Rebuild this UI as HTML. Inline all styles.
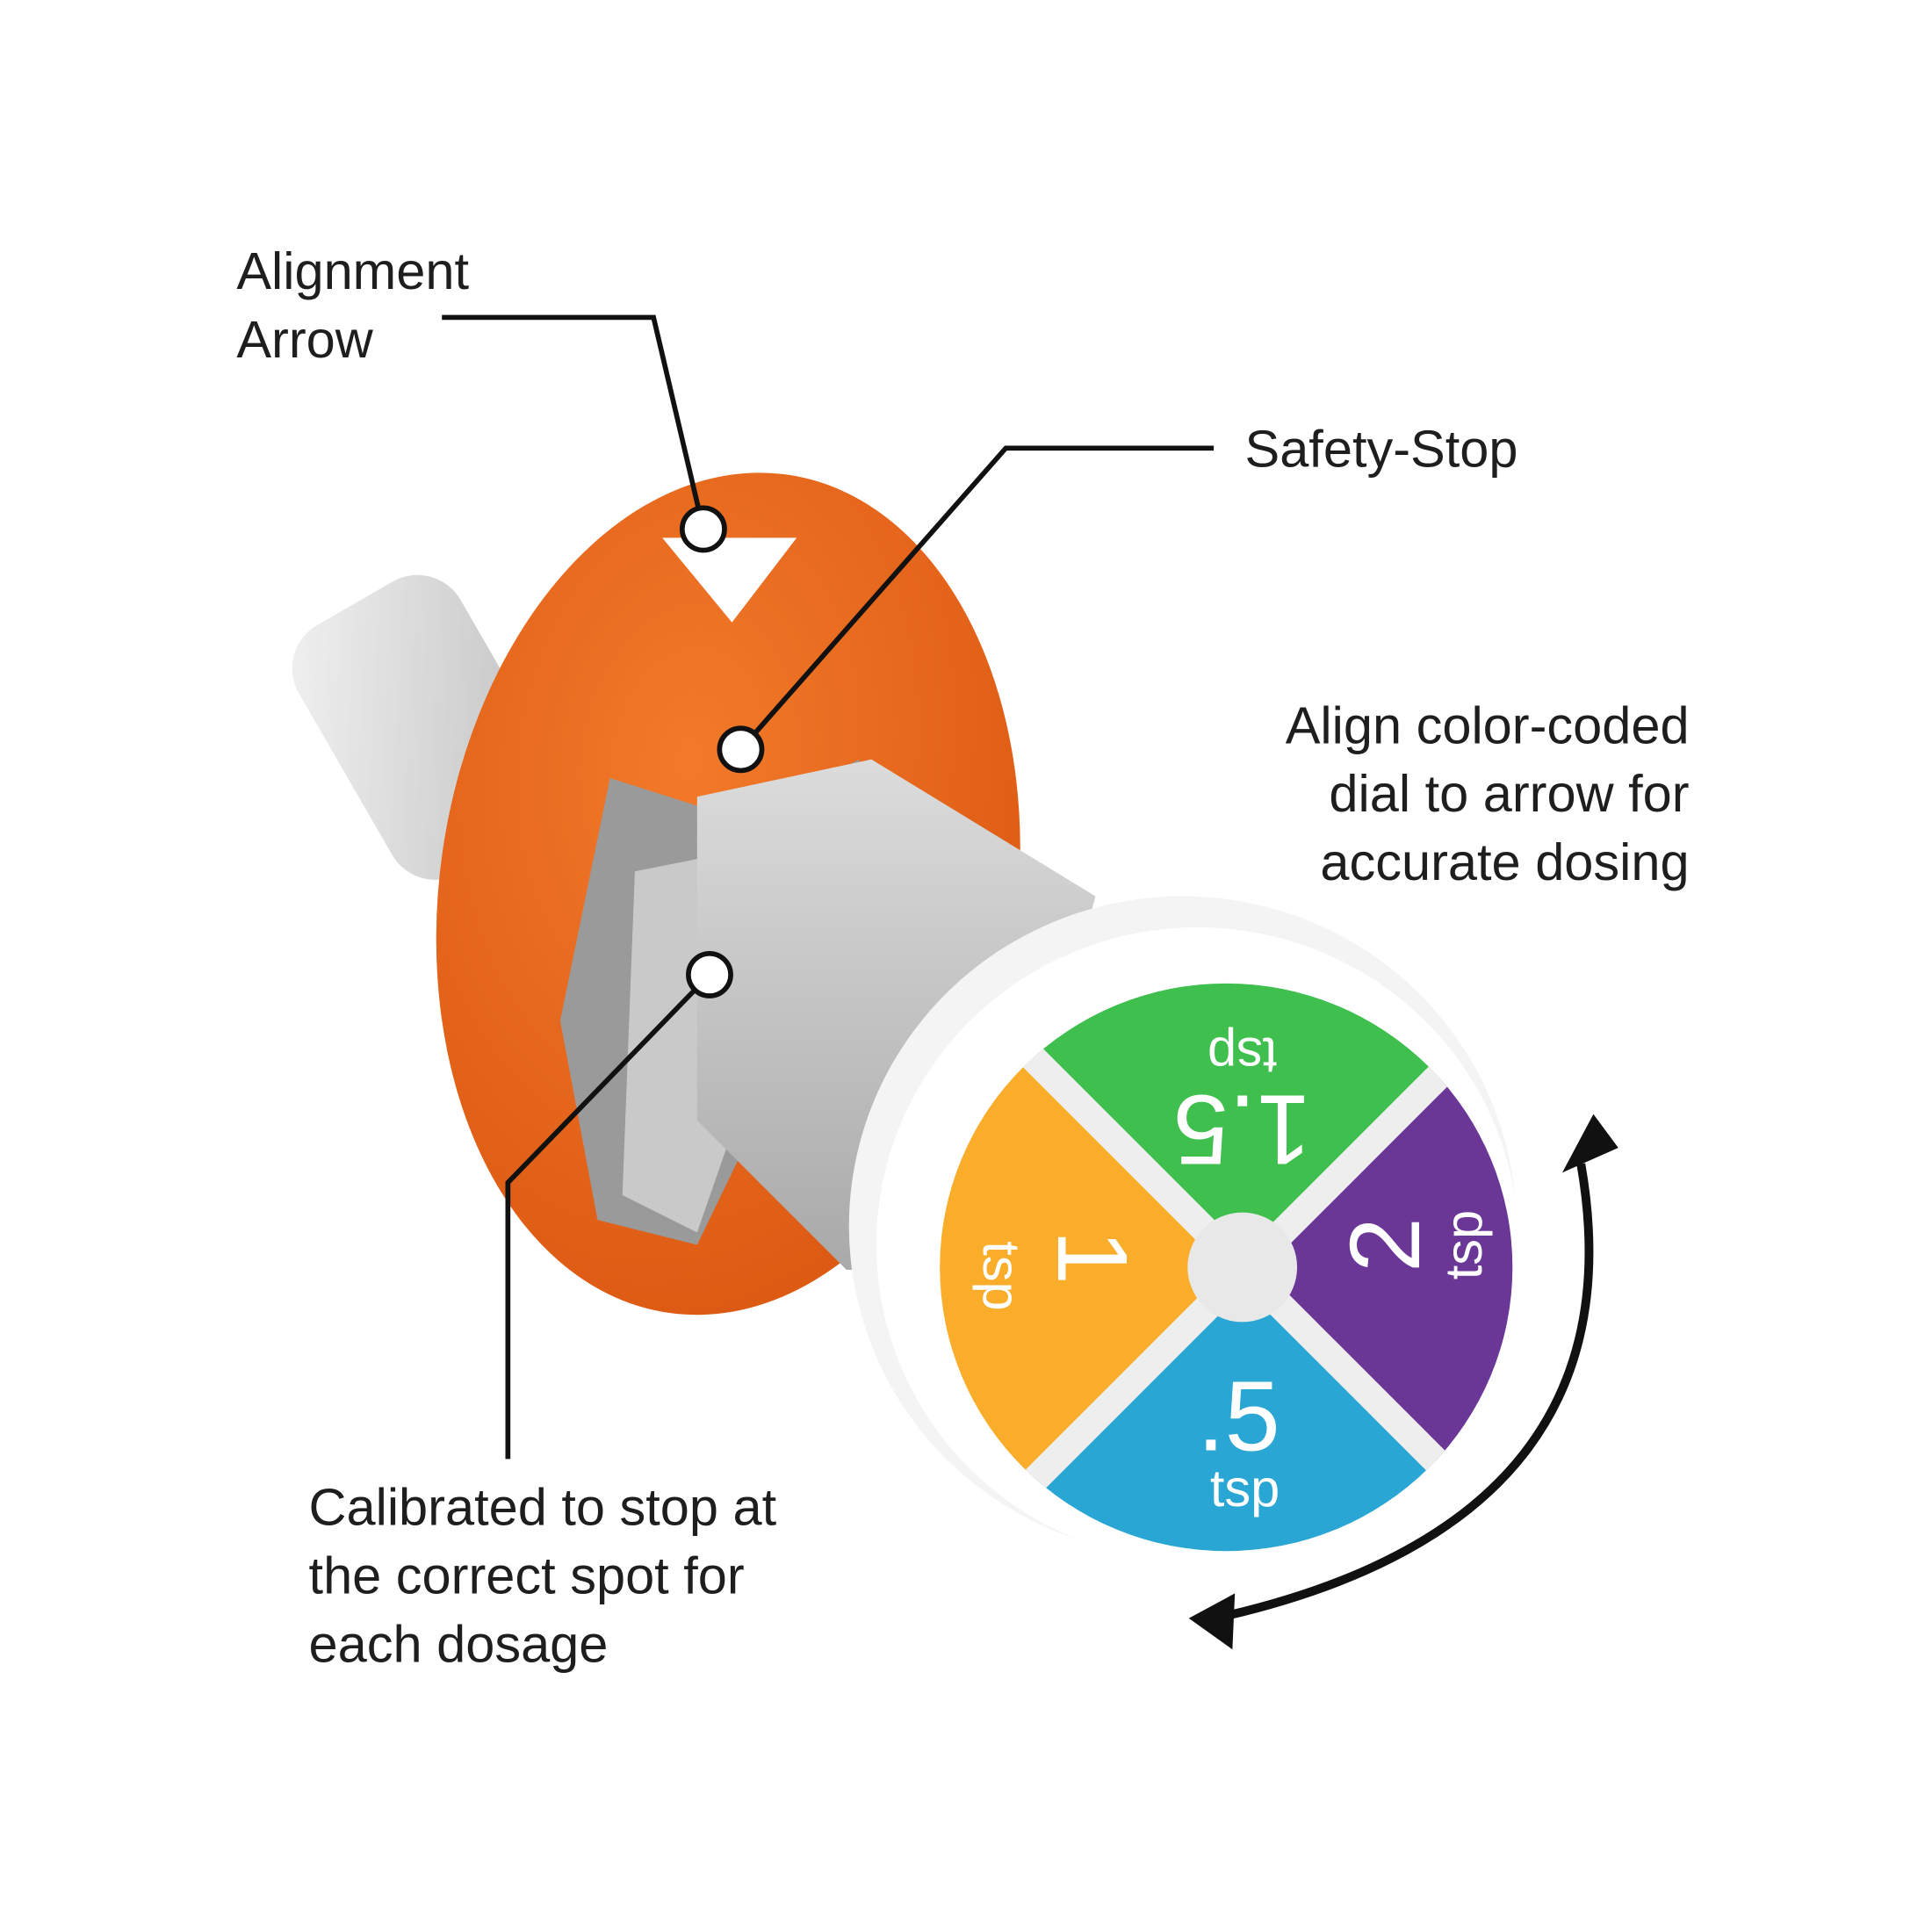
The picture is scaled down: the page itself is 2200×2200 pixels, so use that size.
<!DOCTYPE html>
<html><head><meta charset="utf-8"><style>
html,body{margin:0;padding:0;background:#fff;}
svg{display:block;}
text{font-family:"Liberation Sans",sans-serif;}
.lbl text{fill:#1e1e1e;}
.dl text{fill:#ffffff;}
</style></head><body>
<svg width="2200" height="2200" viewBox="0 0 1552 1552" xmlns="http://www.w3.org/2000/svg">
<defs>
<linearGradient id="tube" x1="0" y1="0" x2="1" y2="1">
<stop offset="0" stop-color="#f2f2f2"/><stop offset="0.5" stop-color="#d8d8d8"/><stop offset="1" stop-color="#bdbdbd"/>
</linearGradient>
<linearGradient id="body" x1="0" y1="0" x2="0" y2="1">
<stop offset="0" stop-color="#dcdcdc"/><stop offset="1" stop-color="#a9a9a9"/>
</linearGradient>
<radialGradient id="org" cx="0.4" cy="0.35" r="0.8">
<stop offset="0" stop-color="#f27a2a"/><stop offset="1" stop-color="#d9540f"/>
</radialGradient>
<clipPath id="face"><ellipse cx="985" cy="1018" rx="230" ry="228"/></clipPath>
</defs>

<g transform="rotate(-30 340 580)">
<rect x="265" y="470" width="150" height="230" rx="40" fill="url(#tube)"/>
</g>
<ellipse cx="585" cy="718" rx="232" ry="340" transform="rotate(8 585 718)" fill="url(#org)"/>
<path d="M490 625 L600 660 L690 610 L705 700 L560 1000 L480 980 L450 820 Z" fill="#9a9a9a"/>
<path d="M510 700 L610 680 L640 760 L560 990 L500 960 Z" fill="#c9c9c9"/>
<path d="M560 640 L700 610 L880 720 L800 1020 L680 1020 L560 900 Z" fill="url(#body)"/>
<polygon points="532,432 640,432 588,500" fill="#fff"/>
<ellipse cx="950" cy="985" rx="268" ry="265" fill="#f4f4f4"/>
<ellipse cx="962" cy="1000" rx="258" ry="255" fill="#fff"/>
<g clip-path="url(#face)">
<polygon points="998,1018 700,720 1300,720" fill="#3fbf4e"/>
<polygon points="998,1018 1300,720 1300,1320" fill="#6a3797"/>
<polygon points="998,1018 1300,1320 700,1320" fill="#2aa6d4"/>
<polygon points="998,1018 700,1320 700,720" fill="#f9ad2b"/>
<line x1="750" y1="770" x2="1250" y2="1270" stroke="#eee" stroke-width="22"/>
<line x1="1250" y1="770" x2="750" y2="1270" stroke="#eee" stroke-width="22"/>
</g>
<circle cx="998" cy="1018" r="44" fill="#e8e8e8"/>
<g class="dl">
<text x="998" y="880" font-size="80" text-anchor="middle" transform="rotate(180 998 880)">1.5</text>
<text x="998" y="810" font-size="42" text-anchor="middle" transform="rotate(180 998 822)">tsp</text>
<text x="1115" y="1025" font-size="80" text-anchor="middle" transform="rotate(-90 1115 1000)">2</text>
<text x="1175" y="1015" font-size="42" text-anchor="middle" transform="rotate(-90 1175 1000)">tsp</text>
<text x="995" y="1165" font-size="80" text-anchor="middle">.5</text>
<text x="1000" y="1210" font-size="42" text-anchor="middle">tsp</text>
<text x="875" y="1035" font-size="80" text-anchor="middle" transform="rotate(90 875 1010)">1</text>
<text x="805" y="1040" font-size="42" text-anchor="middle" transform="rotate(90 805 1025)">tsp</text>
</g>

<path d="M1270 935 Q1320 1220 985 1298" fill="none" stroke="#111" stroke-width="7"/>
<polygon points="1255,942 1300,922 1280,895" fill="#111"/>
<polygon points="992,1280 955,1300 990,1325" fill="#111"/>

<g fill="none" stroke="#111" stroke-width="4">
<polyline points="355,255 525,255 565,425"/>
<polyline points="975,360 808,360 595,602"/>
<polyline points="408,1172 408,950 570,783"/>
</g>
<g fill="#fff" stroke="#111" stroke-width="4">
<circle cx="565" cy="425" r="17"/>
<circle cx="595" cy="602" r="17"/>
<circle cx="570" cy="783" r="17"/>
</g>

<g class="lbl" font-size="42">
<text x="190" y="232">Alignment</text>
<text x="190" y="287">Arrow</text>
<text x="1000" y="375">Safety-Stop</text>
<text x="1357" y="597" text-anchor="end">Align color-coded</text>
<text x="1357" y="652" text-anchor="end">dial to arrow for</text>
<text x="1357" y="707" text-anchor="end">accurate dosing</text>
<text x="248" y="1225">Calibrated to stop at</text>
<text x="248" y="1280">the correct spot for</text>
<text x="248" y="1335">each dosage</text>
</g>
</svg>
</body></html>
